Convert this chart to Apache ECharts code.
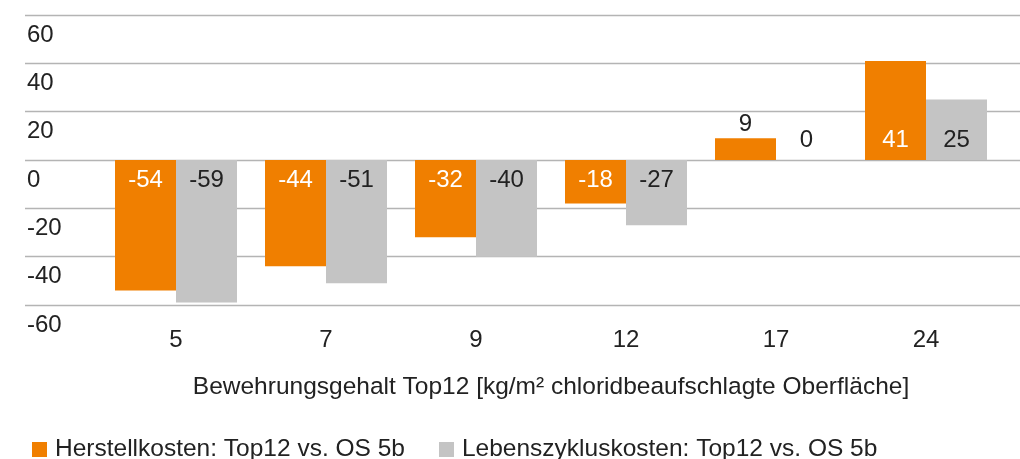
<!DOCTYPE html>
<html>
<head>
<meta charset="utf-8">
<script src="https://cdn.jsdelivr.net/npm/echarts@6/dist/echarts.min.js"></script>
<style>
  html, body { margin: 0; padding: 0; background: #fff; }
  #chart { width: 1020px; height: 459px; }
</style>
</head>
<body>
<div id="chart"></div>
<script>
const categories = ['5', '7', '9', '12', '17', '24'];
const herstell = [-54, -44, -32, -18, 9, 41];
const lebenszyklus = [-59, -51, -40, -27, 0, 25];
const seriesNames = ['Herstellkosten: Top12 vs. OS 5b', 'Lebenszykluskosten: Top12 vs. OS 5b'];
const axisTitle = 'Bewehrungsgehalt Top12 [kg/m² chloridbeaufschlagte Oberfläche]';

const font = '"Liberation Sans", Arial, sans-serif';
const orange = '#F07F00';
const grey = '#C4C4C4';
const ink = '#222';

// label sits next to the zero line: inside the bar when it fits, above it for small bars
function withLabels(values, insideColor) {
  return values.map(v => {
    if (v < 0) return { value: v, label: { position: 'insideTop', distance: 8, color: insideColor } };
    if (v > 0 && v < 15) return { value: v, label: { position: 'top', distance: 2, color: ink } };
    return { value: v, label: { position: 'insideBottom', distance: 8, color: v === 0 ? ink : insideColor } };
  });
}

const chart = echarts.init(document.getElementById('chart'));
chart.setOption({
  animation: false,
  textStyle: { fontFamily: font },
  grid: [
    { left: 25, right: 0, top: 15, bottom: 154 },
    { left: 101, right: 19, top: 15, bottom: 154 }
  ],
  xAxis: [
    { type: 'value', gridIndex: 0, show: false, min: 0, max: 1 },
    {
      type: 'category', gridIndex: 1, data: categories,
      axisLine: { show: false }, axisTick: { show: false },
      axisLabel: { margin: 23, fontSize: 24, color: ink, fontFamily: font },
      name: axisTitle, nameLocation: 'middle', nameGap: 70,
      nameTextStyle: { fontSize: 24.5, color: ink, fontFamily: font }
    }
  ],
  yAxis: [
    {
      type: 'value', gridIndex: 0, min: -60, max: 60, interval: 20,
      axisLine: { show: false }, axisTick: { show: false },
      splitLine: { lineStyle: { color: '#b4b4b4', width: 1.3 } },
      axisLabel: {
        inside: true, margin: 2, verticalAlign: 'top', padding: [8, 0, 0, 0],
        fontSize: 24, color: ink, fontFamily: font
      }
    },
    { type: 'value', gridIndex: 1, min: -60, max: 60, interval: 20, show: false }
  ],
  legend: {
    left: 27, top: 432, itemWidth: 15, itemHeight: 15, itemGap: 34,
    icon: 'rect',
    textStyle: { fontSize: 24.5, color: ink, fontFamily: font, padding: [0, 0, 0, 3] },
    data: seriesNames
  },
  series: [
    {
      name: seriesNames[0], type: 'bar', xAxisIndex: 1, yAxisIndex: 1,
      barWidth: 61, barGap: '0%', itemStyle: { color: orange },
      label: { show: true, fontSize: 24, fontFamily: font },
      data: withLabels(herstell, '#fff')
    },
    {
      name: seriesNames[1], type: 'bar', xAxisIndex: 1, yAxisIndex: 1,
      barWidth: 61, barGap: '0%', itemStyle: { color: grey },
      label: { show: true, fontSize: 24, fontFamily: font },
      data: withLabels(lebenszyklus, ink)
    }
  ]
});
</script>
</body>
</html>
